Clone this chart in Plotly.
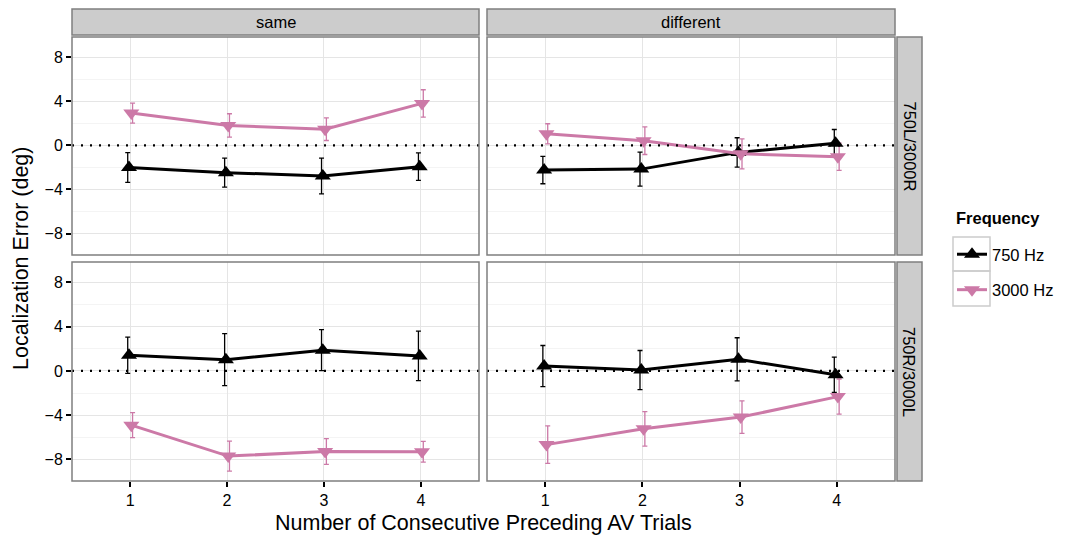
import plotly.graph_objects as go

W, H = 1073, 537

trials = [1, 2, 3, 4]
conditions = ["same", "different"]
configs = ["750L/3000R", "750R/3000L"]
freq_names = ["750 Hz", "3000 Hz"]

# Mean localization error (deg) and error-bar half widths
# 750L/3000R - same
m750_LR_same = [-2.0, -2.47, -2.77, -1.93]
e750_LR_same = [1.35, 1.32, 1.62, 1.25]
m3000_LR_same = [2.94, 1.82, 1.48, 3.82]
e3000_LR_same = [0.91, 1.06, 1.03, 1.24]
# 750L/3000R - different
m750_LR_diff = [-2.24, -2.15, -0.63, 0.2]
e750_LR_diff = [1.24, 1.55, 1.33, 1.25]
m3000_LR_diff = [1.06, 0.43, -0.76, -1.03]
e3000_LR_diff = [0.91, 1.25, 1.36, 1.24]
# 750R/3000L - same
m750_RL_same = [1.42, 1.02, 1.88, 1.36]
e750_RL_same = [1.64, 2.35, 1.85, 2.24]
m3000_RL_same = [-4.9, -7.7, -7.28, -7.3]
e3000_RL_same = [1.13, 1.35, 1.17, 0.94]
# 750R/3000L - different
m750_RL_diff = [0.44, 0.08, 1.05, -0.35]
e750_RL_diff = [1.86, 1.77, 1.95, 1.6]
m3000_RL_diff = [-6.66, -5.23, -4.17, -2.32]
e3000_RL_diff = [1.7, 1.56, 1.47, 1.59]

y_ticks = [-8, -4, 0, 4, 8]
y_tick_text = ["\u22128", "\u22124", "0", "4", "8"]
y_minor = [-6, -2, 2, 6]

panels = {
    (0, 0): [(m750_LR_same, e750_LR_same), (m3000_LR_same, e3000_LR_same)],
    (0, 1): [(m750_LR_diff, e750_LR_diff), (m3000_LR_diff, e3000_LR_diff)],
    (1, 0): [(m750_RL_same, e750_RL_same), (m3000_RL_same, e3000_RL_same)],
    (1, 1): [(m750_RL_diff, e750_RL_diff), (m3000_RL_diff, e3000_RL_diff)],
}

colors = ["#000000", "#CC79A7"]
symbols = ["triangle-up", "triangle-down"]
pt_dodge = [-0.012, 0.012]
eb_dodge = [-0.025, 0.025]

FONT = "Liberation Sans, Arial, Helvetica, sans-serif"
TICK_SIZE = 16
STRIP_SIZE = 16.5
TITLE_SIZE = 21.5
LEG_SIZE = 16.5

def fx(p):
    return p / W

def fy(p):
    return 1 - p / H

col_px = [(72, 479), (487, 895)]
row_px = [(37, 255), (262, 481)]

fig = go.Figure()
layout = {}
shapes = []
annotations = []

for (r, c), series in panels.items():
    idx = r * 2 + c + 1
    xa = "xaxis" if idx == 1 else f"xaxis{idx}"
    ya = "yaxis" if idx == 1 else f"yaxis{idx}"
    xr = "x" if idx == 1 else f"x{idx}"
    yr = "y" if idx == 1 else f"y{idx}"
    x0, x1 = col_px[c]
    y0, y1 = row_px[r]
    layout[xa] = dict(
        domain=[fx(x0), fx(x1)], anchor=yr, range=[0.4, 4.6],
        tickvals=trials, ticktext=[str(t) for t in trials],
        showticklabels=(r == 1), ticks="outside" if r == 1 else "",
        ticklen=5, tickwidth=1.5, tickcolor="black",
        tickfont=dict(size=TICK_SIZE, color="black", family=FONT),
        showgrid=True, gridcolor="#E5E5E5", gridwidth=1,
        zeroline=False, showline=False,
    )
    layout[ya] = dict(
        domain=[fy(y1), fy(y0)], anchor=xr, range=[-9.95, 9.85],
        tickvals=y_ticks, ticktext=y_tick_text,
        showticklabels=(c == 0), ticks="outside" if c == 0 else "",
        ticklen=5, tickwidth=1.5, tickcolor="black",
        tickfont=dict(size=TICK_SIZE, color="black", family=FONT),
        showgrid=True, gridcolor="#E5E5E5", gridwidth=1,
        minor=dict(tickvals=y_minor, showgrid=True, gridcolor="#F4F4F4", gridwidth=1, ticks=""),
        zeroline=False, showline=False,
    )
    shapes.append(dict(type="line", xref=f"{xr} domain", yref=yr, x0=0, x1=1, y0=0, y1=0,
                       line=dict(color="black", width=2.2, dash="2px,7px"), layer="above"))
    shapes.append(dict(type="rect", xref="paper", yref="paper", x0=fx(x0), x1=fx(x1),
                       y0=fy(y1), y1=fy(y0), line=dict(color="#7F7F7F", width=1.5),
                       fillcolor="rgba(0,0,0,0)", layer="above"))
    for k, (m, e) in enumerate(series):
        fig.add_trace(go.Scatter(
            x=[t + eb_dodge[k] for t in trials], y=m, xaxis=xr, yaxis=yr,
            mode="markers", marker=dict(size=1, color=colors[k], opacity=0),
            error_y=dict(type="data", array=e, visible=True, color=colors[k],
                         thickness=1.3, width=2.5),
            showlegend=False, hoverinfo="skip",
        ))
    for k, (m, e) in enumerate(series):
        fig.add_trace(go.Scatter(
            x=[t + pt_dodge[k] for t in trials], y=m, xaxis=xr, yaxis=yr,
            mode="lines+markers", name=freq_names[k],
            line=dict(color=colors[k], width=3),
            marker=dict(symbol=symbols[k], size=14, color=colors[k]),
            showlegend=(idx == 1), legendgroup=freq_names[k],
        ))

for c, name in enumerate(conditions):
    x0, x1 = col_px[c]
    shapes.append(dict(type="rect", xref="paper", yref="paper", x0=fx(x0), x1=fx(x1),
                       y0=fy(35), y1=fy(9), fillcolor="#CCCCCC",
                       line=dict(color="#7F7F7F", width=1.5), layer="above"))
    annotations.append(dict(text=name, x=fx((x0 + x1) / 2), y=fy(22), xref="paper", yref="paper",
                            showarrow=False, font=dict(size=STRIP_SIZE, color="black", family=FONT),
                            xanchor="center", yanchor="middle"))
for r, name in enumerate(configs):
    y0, y1 = row_px[r]
    shapes.append(dict(type="rect", xref="paper", yref="paper", x0=fx(897), x1=fx(922),
                       y0=fy(y1), y1=fy(y0), fillcolor="#CCCCCC",
                       line=dict(color="#7F7F7F", width=1.5), layer="above"))
    annotations.append(dict(text=name, x=fx(909.5), y=fy((y0 + y1) / 2), xref="paper", yref="paper",
                            showarrow=False, textangle=90,
                            font=dict(size=STRIP_SIZE, color="black", family=FONT),
                            xanchor="center", yanchor="middle"))

annotations.append(dict(text="Number of Consecutive Preceding AV Trials", x=fx(483), y=fy(523),
                        xref="paper", yref="paper", showarrow=False,
                        font=dict(size=TITLE_SIZE, color="black", family=FONT),
                        xanchor="center", yanchor="middle"))
annotations.append(dict(text="Localization Error (deg)", x=fx(21), y=fy(259),
                        xref="paper", yref="paper", showarrow=False, textangle=-90,
                        font=dict(size=TITLE_SIZE, color="black", family=FONT),
                        xanchor="center", yanchor="middle"))
annotations.append(dict(text="<b>Frequency</b>", x=fx(954), y=fy(218),
                        xref="paper", yref="paper", showarrow=False,
                        font=dict(size=LEG_SIZE, color="black", family=FONT),
                        xanchor="left", yanchor="middle"))

for (a, b) in [(237, 271), (271, 306)]:
    shapes.append(dict(type="rect", xref="paper", yref="paper", x0=fx(953), x1=fx(990),
                       y0=fy(b), y1=fy(a), line=dict(color="#CCCCCC", width=1.5),
                       fillcolor="rgba(0,0,0,0)", layer="below"))

fig.update_layout(
    **layout,
    width=W, height=H,
    margin=dict(l=0, r=0, t=0, b=0),
    paper_bgcolor="white", plot_bgcolor="white",
    font=dict(family=FONT, color="black"),
    shapes=shapes, annotations=annotations,
    legend=dict(
        x=fx(952), y=fy(237), xanchor="left", yanchor="top",
        font=dict(size=LEG_SIZE, family=FONT, color="black"),
        bgcolor="rgba(0,0,0,0)", tracegroupgap=11, itemwidth=30,
    ),
)

fig.write_html("out.html")
